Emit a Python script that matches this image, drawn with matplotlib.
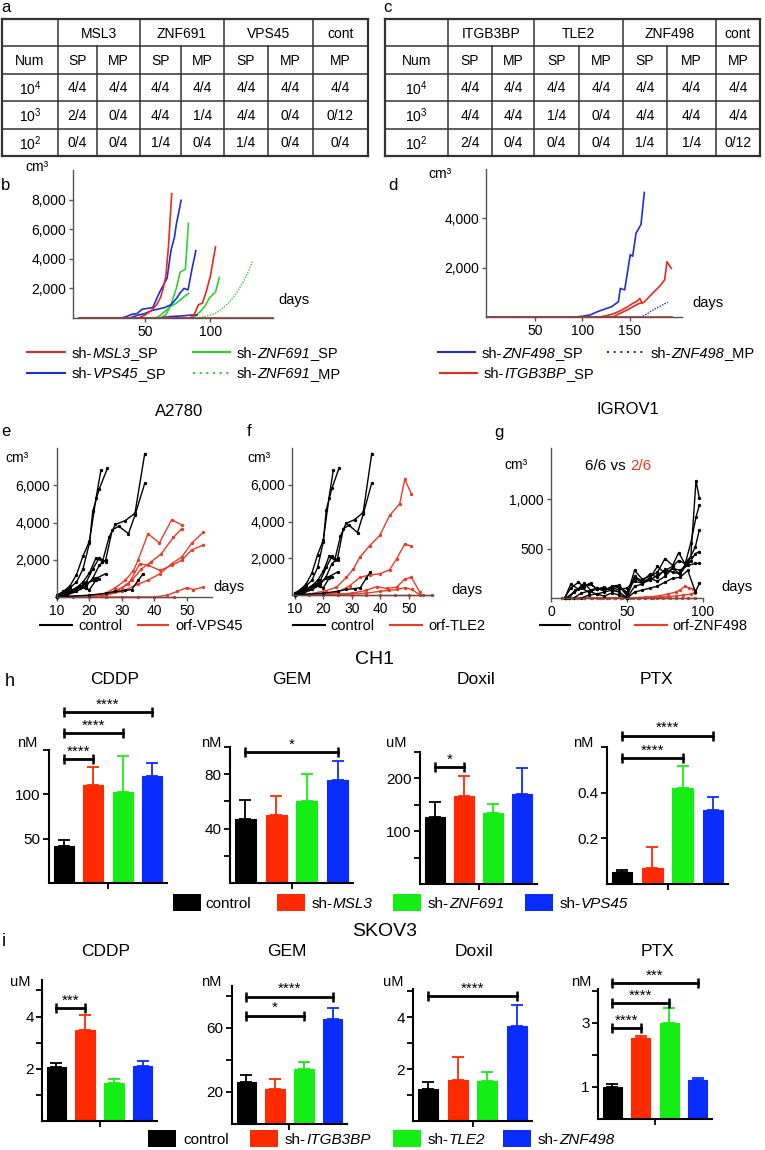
import matplotlib
matplotlib.use('Agg')
import matplotlib.pyplot as plt
from matplotlib.patches import Rectangle
from matplotlib.ticker import StrMethodFormatter

plt.rcParams['font.family'] = ['Liberation Sans', 'DejaVu Sans']
plt.rcParams['mathtext.fontset'] = 'custom'
plt.rcParams['mathtext.rm'] = 'Liberation Sans'
plt.rcParams['mathtext.it'] = 'Liberation Sans:italic'

# ---------------- data ----------------
# a / c tables
table_a_genes = ['MSL3', 'ZNF691', 'VPS45', 'cont']
table_c_genes = ['ITGB3BP', 'TLE2', 'ZNF498', 'cont']
table_sub = ['SP', 'MP', 'SP', 'MP', 'SP', 'MP', 'MP']
cell_numbers = ['10$^4$', '10$^3$', '10$^2$']
table_a_rows = [
    ['4/4', '4/4', '4/4', '4/4', '4/4', '4/4', '4/4'],
    ['2/4', '0/4', '4/4', '1/4', '4/4', '0/4', '0/12'],
    ['0/4', '0/4', '1/4', '0/4', '1/4', '0/4', '0/4'],
]
table_c_rows = [
    ['4/4', '4/4', '4/4', '4/4', '4/4', '4/4', '4/4'],
    ['4/4', '4/4', '1/4', '0/4', '4/4', '4/4', '4/4'],
    ['2/4', '0/4', '0/4', '0/4', '1/4', '1/4', '0/12'],
]

# b: tumour volume (cm3) vs days
b_msl3_1_d = [0, 45, 50, 55, 59, 62, 64, 66, 68, 70.5]
b_msl3_1_v = [0, 0, 200, 500, 900, 1400, 2000, 2800, 4800, 8400]
b_msl3_2_d = [0, 85, 88, 91, 94, 97, 100, 104]
b_msl3_2_v = [0, 0, 300, 900, 1000, 1800, 2800, 4800]
b_msl3_3_d = [0, 148]
b_msl3_3_v = [0, 0]
b_vps45_1_d = [0, 32, 36, 40, 44, 48, 52, 56, 61, 64, 67, 70, 72.5, 74, 77.7]
b_vps45_1_v = [0, 0, 100, 250, 300, 600, 650, 700, 1700, 2200, 2700, 4600, 5400, 6300, 7950]
b_vps45_2_d = [0, 38, 45, 50, 55, 60, 65, 70, 74, 77, 80, 83, 86, 89]
b_vps45_2_v = [0, 0, 200, 300, 500, 600, 700, 900, 1300, 1700, 2000, 1900, 3300, 4550]
b_vps45_3_d = [0, 60, 70, 80, 85, 90]
b_vps45_3_v = [0, 0, 100, 150, 200, 200]
b_znf691_1_d = [0, 62, 66, 70, 74, 77, 79, 81, 83.3]
b_znf691_1_v = [0, 0, 200, 900, 2000, 3100, 3200, 3300, 6400]
b_znf691_2_d = [0, 58, 62, 66, 70, 74, 78, 83.3]
b_znf691_2_v = [0, 0, 200, 500, 800, 1000, 1300, 1660]
b_znf691_3_d = [0, 84, 88, 92, 96, 99, 102, 104, 107]
b_znf691_3_v = [0, 0, 100, 400, 800, 1300, 1600, 1750, 2750]
b_znf691_mp_d = [0, 88, 95, 100, 105, 110, 115, 120, 125, 130, 132]
b_znf691_mp_v = [0, 0, 80, 200, 350, 700, 1100, 1700, 2400, 3300, 3800]

# d
d_znf498_sp_d = [0, 92, 100, 108, 115, 122, 131, 138, 140, 144.6, 150.5, 153, 156.6, 161.8, 165.3]
d_znf498_sp_v = [0, 0, 30, 80, 200, 300, 420, 620, 1160, 1100, 2530, 2460, 3400, 3750, 5050]
d_znf498_mp_d = [0, 162, 166, 170, 175, 180, 185, 190]
d_znf498_mp_v = [0, 0, 80, 170, 300, 400, 500, 600]
d_itgb3bp_1_d = [0, 132, 140, 148, 155, 160, 165, 170, 175, 181, 186.7, 189.2, 193.7]
d_itgb3bp_1_v = [0, 0, 150, 300, 450, 550, 600, 800, 1000, 1230, 1500, 2240, 1970]
d_itgb3bp_2_d = [0, 118, 125, 132, 140, 147, 153, 158, 160.5, 163]
d_itgb3bp_2_v = [0, 0, 50, 120, 250, 400, 550, 650, 760, 560]
d_itgb3bp_3_d = [0, 194]
d_itgb3bp_3_v = [0, 0]

# e / f: A2780 controls (same group drawn in both panels)
ctrl1_d = [10, 12, 14, 16, 18, 20, 22, 23.5]
ctrl1_v = [100, 300, 600, 1200, 2200, 3000, 5300, 6800]
ctrl2_d = [10, 12, 14, 16, 18, 20, 21, 23, 25.5]
ctrl2_v = [100, 200, 500, 800, 1500, 2900, 4600, 5800, 6900]
ctrl3_d = [10, 13, 16, 18, 20, 22, 24, 26, 28, 31, 34, 37]
ctrl3_v = [0, 200, 500, 800, 1300, 2100, 1900, 3200, 3900, 4100, 4500, 7700]
ctrl4_d = [10, 13, 16, 19, 21, 23, 25, 27, 29, 32, 34, 37]
ctrl4_v = [0, 100, 300, 600, 1000, 1700, 2000, 3600, 3800, 3400, 4400, 6100]
ctrl5_d = [10, 13, 16, 19, 21, 23, 25]
ctrl5_v = [0, 150, 400, 800, 1500, 2100, 1900]
ctrl6_d = [10, 13, 16, 19, 22, 25]
ctrl6_v = [0, 200, 500, 700, 1000, 1250]
ctrl7_d = [10, 13, 16, 19, 21, 23]
ctrl7_v = [0, 200, 500, 700, 900, 980]
ctrl8_d = [10, 20, 25, 28, 31, 33, 35, 36.5]
ctrl8_v = [0, 100, 200, 300, 350, 400, 900, 1250]
ctrl9_d = [10, 13, 15, 17, 19]
ctrl9_v = [0, 400, 300, 600, 500]
ctrl10_d = [10, 12, 15, 17, 20, 22]
ctrl10_v = [0, 200, 300, 500, 400, 900]

# e: orf-VPS45
e_orf1_d = [10, 20, 25, 28, 31, 33.5, 35, 38, 41.5, 45.3, 48.4]
e_orf1_v = [0, 50, 200, 500, 900, 1400, 2000, 3400, 2900, 4150, 3870]
e_orf2_d = [10, 22, 26, 30, 33, 36, 39, 42, 45.8, 48.4]
e_orf2_v = [0, 50, 200, 500, 900, 1500, 1900, 2300, 3200, 3660]
e_orf3_d = [10, 25, 30, 35, 38, 41.7, 45.3, 48.4, 51.4, 55]
e_orf3_v = [0, 100, 300, 700, 900, 1250, 1790, 2150, 2880, 3475]
e_orf4_d = [10, 24, 28, 32, 35.5, 38.1, 41.7, 45.3, 48.4, 51.4, 55]
e_orf4_v = [0, 100, 300, 700, 1790, 1700, 1430, 1700, 1970, 2520, 2790]
e_orf5_d = [10, 40, 44, 47, 50, 52, 55]
e_orf5_v = [0, 0, 100, 300, 500, 400, 525]
e_orf6_d = [10, 15, 20, 25, 30, 35, 40, 46]
e_orf6_v = [0, 0, 0, 0, 0, 0, 0, 0]

# f: orf-TLE2
f_orf1_d = [10, 15, 21, 24.6, 28.1, 30.5, 32.8, 36.3, 39.8, 43.3, 46.8, 48.6, 50.9]
f_orf1_v = [0, 50, 240, 420, 960, 1400, 2050, 2690, 3240, 4330, 4960, 6290, 5510]
f_orf2_d = [10, 20, 25, 29.3, 32.8, 36.3, 39.8, 43.3, 45.7, 48.6, 50.9]
f_orf2_v = [0, 50, 150, 510, 960, 1090, 1150, 1380, 1960, 2780, 2650]
f_orf3_d = [10, 25, 30, 35, 38.7, 42.2, 45.7, 48.6, 50.9, 53.9]
f_orf3_v = [0, 50, 100, 250, 450, 360, 420, 870, 960, 150]
f_orf4_d = [10, 30, 35, 40, 43, 46, 48.6, 51, 54]
f_orf4_v = [0, 50, 100, 200, 250, 300, 400, 300, 0]
f_orf5_d = [10, 15, 20, 25, 30, 35, 40, 45, 50, 55, 58]
f_orf5_v = [0, 0, 0, 0, 0, 0, 0, 0, 0, 0, 0]

# g: IGROV1
g_ctrl1_d = [9, 13, 18, 22, 26, 30, 35, 40, 45, 50, 55, 60, 65, 70, 75, 80, 84, 88, 92, 95.4, 97.6]
g_ctrl1_v = [0, 140, 90, 150, 80, 100, 70, 120, 130, 30, 280, 190, 220, 260, 400, 330, 460, 350, 420, 1190, 1010]
g_ctrl2_d = [9, 13, 18, 22, 26, 30, 35, 40, 45, 50, 55, 60, 65, 70, 75, 80, 84, 88, 92, 95.4, 97.6]
g_ctrl2_v = [0, 100, 160, 110, 150, 90, 100, 90, 110, 60, 220, 170, 240, 210, 290, 260, 250, 330, 560, 820, 940]
g_ctrl3_d = [10, 15, 20, 25, 30, 35, 40, 45, 50, 55, 60, 65, 70, 75, 80, 85, 90, 95, 97.6]
g_ctrl3_v = [0, 60, 120, 140, 100, 80, 110, 120, 20, 200, 160, 200, 320, 250, 300, 240, 360, 520, 690]
g_ctrl4_d = [12, 16, 20, 25, 30, 35, 40, 45, 50, 55, 60, 65, 70, 75, 80, 84, 88, 92, 95, 97.6]
g_ctrl4_v = [0, 80, 100, 60, 90, 110, 70, 90, 100, 170, 150, 180, 230, 280, 320, 380, 350, 380, 450, 470]
g_ctrl5_d = [15, 20, 25, 30, 35, 40, 45, 50, 55, 60, 65, 70, 75, 80, 85, 90, 95, 97.6]
g_ctrl5_v = [0, 50, 70, 40, 60, 80, 60, 0, 120, 140, 200, 170, 220, 300, 280, 330, 350, 350]
g_ctrl6_d = [20, 25, 30, 35, 40, 45, 50, 55, 60, 65, 70, 75, 80, 85, 90, 95, 97.6]
g_ctrl6_v = [0, 30, 40, 20, 50, 30, 0, 60, 80, 100, 120, 160, 200, 210, 280, 60, 150]
g_orf1_d = [7, 12, 17, 22, 27, 32, 37, 42, 47, 52, 57, 62, 67, 72, 77, 82, 85, 88, 91, 93.6, 95]
g_orf1_v = [0, 0, 0, 0, 0, 0, 0, 0, 0, 0, 5, 10, 15, 25, 40, 60, 80, 120, 100, 90, 85]
g_orf2_d = [7, 12, 17, 22, 27, 32, 37, 42, 47, 52, 57, 62, 67, 72, 77, 82, 87, 92, 95]
g_orf2_v = [0, 0, 0, 0, 0, 0, 0, 0, 0, 0, 0, 0, 5, 10, 15, 20, 30, 40, 55]
g_orf3_d = [7, 10, 14, 18, 22, 26, 30, 34, 38, 42, 46, 50, 54, 58, 62, 66, 70, 74, 78, 82, 86, 90, 95]
g_orf3_v = [0, 0, 0, 0, 0, 0, 0, 0, 0, 0, 0, 0, 0, 0, 0, 0, 0, 0, 0, 0, 0, 0, 0]

# h: CH1 IC50 (mean, sd)
h_genes = ['MSL3', 'ZNF691', 'VPS45']
i_genes = ['ITGB3BP', 'TLE2', 'ZNF498']
h_cddp = [42, 111, 103, 121]
h_cddp_sd = [6, 20, 40, 14]
h_gem = [47, 50, 60, 75.5]
h_gem_sd = [14, 14, 20, 14]
h_doxil = [126, 166, 134, 170]
h_doxil_sd = [30, 39, 18, 49]
h_ptx = [0.053, 0.068, 0.42, 0.323]
h_ptx_sd = [0.01, 0.096, 0.097, 0.057]
# i: SKOV3
i_cddp = [2.06, 3.48, 1.45, 2.1]
i_cddp_sd = [0.17, 0.57, 0.17, 0.2]
i_gem = [26, 21.9, 34.4, 65.6]
i_gem_sd = [4.6, 6.1, 4.4, 6.4]
i_doxil = [1.23, 1.58, 1.54, 3.65]
i_doxil_sd = [0.27, 0.88, 0.34, 0.81]
i_ptx = [1.0, 2.53, 3.0, 1.22]
i_ptx_sd = [0.09, 0.07, 0.47, 0.06]
# significance brackets: (from, to, height, stars)
h_cddp_sig = [(0, 1, 140, '****'), (0, 2, 169, '****'), (0, 3, 193, '****')]
h_gem_sig = [(0, 3, 96, '*')]
h_doxil_sig = [(0, 1, 221, '*')]
h_ptx_sig = [(0, 2, 0.55, '****'), (0, 3, 0.65, '****')]
i_cddp_sig = [(0, 1, 4.32, '***')]
i_gem_sig = [(0, 2, 67.5, '*'), (0, 3, 79.4, '****')]
i_doxil_sig = [(0, 3, 4.8, '****')]
i_ptx_sig = [(0, 1, 2.84, '****'), (0, 2, 3.63, '****'), (0, 3, 4.25, '***')]

RED = '#e8291c'
BLUE = '#1f2fd6'
GREEN = '#2bd42b'
ORF = '#ee3a24'
AXC = '#555555'
BAR_COLORS = ['#000000', '#ff2a00', '#14ee14', '#0a2cff']

# ---------------- figure ----------------
W, H = 765, 1150
fig = plt.figure(figsize=(W / 100, H / 100), dpi=100)


def px_axes(l, t, r, b):
    return fig.add_axes([l / W, 1 - b / H, (r - l) / W, (b - t) / H])


ov = fig.add_axes([0, 0, 1, 1], zorder=10)
ov.set_xlim(0, W)
ov.set_ylim(H, 0)
ov.axis('off')


def txt(x, y, s, size=10.5, ha='center', va='center', **kw):
    return ov.text(x, y, s, fontsize=size, ha=ha, va=va, **kw)


def rich(x, y, parts, size):
    # parts: (text, style, colour) pieces written one after another
    s, st, col = parts[0]
    t = ov.text(x, y, s, fontsize=size, ha='left', va='center_baseline',
                style=st, color=col)
    for s, st, col in parts[1:]:
        t = ov.annotate(s, xy=(1, 0), xycoords=t, ha='left', va='bottom',
                        fontsize=size, style=st, color=col)


def sh_parts(gene, suffix=''):
    parts = [('sh-', 'normal', 'black'), (gene, 'italic', 'black')]
    if suffix:
        parts.append((suffix, 'normal', 'black'))
    return parts


# ---- tables ----
def draw_table(edges, genes, rows):
    top, bot = 19, 156
    rh = (bot - top) / 5
    ys = [top + k * rh for k in range(6)]
    for k, y in enumerate(ys):
        ov.plot([edges[0], edges[-1]], [y, y], color='#333333',
                lw=1.6 if k in (0, 5) else 1.1, solid_capstyle='projecting')
    head_edges = [edges[0], edges[1], edges[3], edges[5], edges[7], edges[8]]
    for k, x in enumerate(edges):
        outer = k in (0, len(edges) - 1)
        y0 = ys[0] if x in head_edges else ys[1]
        ov.plot([x, x], [y0, ys[-1]], color='#333333', lw=1.6 if outer else 1.1)
    spans = [(1, 3), (3, 5), (5, 7), (7, 8)]
    for g, (c0, c1) in zip(genes, spans):
        txt((edges[c0] + edges[c1]) / 2, ys[0] + rh / 2 + 1, g, size=10)
    txt((edges[0] + edges[1]) / 2, ys[1] + rh / 2 + 1, 'Num', size=10)
    for c, s in enumerate(table_sub):
        txt((edges[c + 1] + edges[c + 2]) / 2, ys[1] + rh / 2 + 1, s, size=10)
    for r, (lab, vals) in enumerate(zip(cell_numbers, rows)):
        yc = ys[r + 2] + rh / 2 + 1
        txt((edges[0] + edges[1]) / 2, yc, lab, size=10)
        for c, s in enumerate(vals):
            txt((edges[c + 1] + edges[c + 2]) / 2, yc, s, size=10)


draw_table([2, 58, 97, 140, 181, 224, 268, 313, 368], table_a_genes, table_a_rows)
draw_table([385, 448, 492, 534, 579, 623, 667, 716, 760], table_c_genes, table_c_rows)
txt(6, 7, 'a', size=12)
txt(387, 7, 'c', size=12)


# ---- line panels ----
def line_axes(box, xlim, ylim, xticks, yticks):
    ax = px_axes(*box)
    ax.set_xlim(*xlim)
    ax.set_ylim(*ylim)
    for s in ('top', 'right'):
        ax.spines[s].set_visible(False)
    for s in ('left', 'bottom'):
        ax.spines[s].set_color(AXC)
        ax.spines[s].set_linewidth(1.0)
    ax.set_xticks(xticks)
    ax.set_yticks(yticks)
    ax.yaxis.set_major_formatter(StrMethodFormatter('{x:,.0f}'))
    ax.tick_params(length=3, width=1, color=AXC, labelsize=10, pad=2)
    ax.patch.set_alpha(0)
    return ax


def draw(ax, curves, color, ls='-', marker=None, lw=1.2):
    for d, v in curves:
        ax.plot(d, v, color=color, ls=ls, lw=lw, marker=marker, ms=1.4,
                clip_on=False)


ax_b = line_axes((73, 170, 273, 318), (-5, 148), (0, 10000), [50, 100],
                 [2000, 4000, 6000, 8000])
draw(ax_b, [(b_znf691_mp_d, b_znf691_mp_v)], GREEN, ls=(0, (1, 1)), lw=1.0)
draw(ax_b, [(b_znf691_1_d, b_znf691_1_v), (b_znf691_2_d, b_znf691_2_v),
            (b_znf691_3_d, b_znf691_3_v)], GREEN)
draw(ax_b, [(b_vps45_1_d, b_vps45_1_v), (b_vps45_2_d, b_vps45_2_v),
            (b_vps45_3_d, b_vps45_3_v)], BLUE)
draw(ax_b, [(b_msl3_1_d, b_msl3_1_v), (b_msl3_2_d, b_msl3_2_v),
            (b_msl3_3_d, b_msl3_3_v)], RED)
txt(6, 185, 'b', size=12)
txt(37, 167, 'cm³', size=10)
txt(294, 300, 'days', size=10.5)

ax_d = line_axes((486, 169, 682, 317), (-1.5, 205), (0, 6000), [50, 100, 150],
                 [2000, 4000])
draw(ax_d, [(d_znf498_mp_d, d_znf498_mp_v)], BLUE, ls=(0, (1, 1)), lw=1.0)
draw(ax_d, [(d_znf498_sp_d, d_znf498_sp_v)], BLUE)
draw(ax_d, [(d_itgb3bp_1_d, d_itgb3bp_1_v), (d_itgb3bp_2_d, d_itgb3bp_2_v),
            (d_itgb3bp_3_d, d_itgb3bp_3_v)], RED)
txt(393, 185, 'd', size=12)
txt(440, 174, 'cm³', size=10)
txt(708, 303, 'days', size=10.5)


def leg_line(x0, x1, y, color, parts, tx, ls='-'):
    ov.plot([x0, x1], [y, y], color=color, lw=1.5, ls=ls)
    rich(tx, y, parts, 10.5)


def plain(s):
    return [(s, 'normal', 'black')]


DOT = (0, (1, 2.2))
leg_line(27, 65, 352, RED, sh_parts('MSL3', '_SP'), 72)
leg_line(27, 65, 373, BLUE, sh_parts('VPS45', '_SP'), 72)
leg_line(193, 230, 352, GREEN, sh_parts('ZNF691', '_SP'), 237)
leg_line(193, 230, 373, GREEN, sh_parts('ZNF691', '_MP'), 237, ls=DOT)
leg_line(438, 475, 352, BLUE, sh_parts('ZNF498', '_SP'), 482)
leg_line(607, 645, 352, BLUE, sh_parts('ZNF498', '_MP'), 651, ls=DOT)
leg_line(440, 477, 373, RED, sh_parts('ITGB3BP', '_SP'), 484)

controls = [(ctrl1_d, ctrl1_v), (ctrl2_d, ctrl2_v), (ctrl3_d, ctrl3_v),
            (ctrl4_d, ctrl4_v), (ctrl5_d, ctrl5_v), (ctrl6_d, ctrl6_v),
            (ctrl7_d, ctrl7_v), (ctrl8_d, ctrl8_v), (ctrl9_d, ctrl9_v),
            (ctrl10_d, ctrl10_v)]

ax_e = line_axes((57, 448, 212, 597), (10, 57.7), (0, 8000),
                 [10, 20, 30, 40, 50], [2000, 4000, 6000])
draw(ax_e, [(e_orf1_d, e_orf1_v), (e_orf2_d, e_orf2_v), (e_orf3_d, e_orf3_v),
            (e_orf4_d, e_orf4_v), (e_orf5_d, e_orf5_v), (e_orf6_d, e_orf6_v)],
     ORF, marker='o', lw=1.0)
draw(ax_e, controls, 'black', marker='o', lw=1.0)
txt(179, 412, 'A2780', size=12)
txt(6, 432, 'e', size=12)
txt(17, 458, 'cm³', size=10)
txt(229, 587, 'days', size=10.5)

ax_f = line_axes((292, 448, 433, 595), (9, 58.5), (0, 8000),
                 [10, 20, 30, 40, 50], [2000, 4000, 6000])
draw(ax_f, [(f_orf1_d, f_orf1_v), (f_orf2_d, f_orf2_v), (f_orf3_d, f_orf3_v),
            (f_orf4_d, f_orf4_v), (f_orf5_d, f_orf5_v)],
     ORF, marker='o', lw=1.0)
draw(ax_f, controls, 'black', marker='o', lw=1.0)
txt(249, 432, 'f', size=12)
txt(259, 458, 'cm³', size=10)
txt(467, 590, 'days', size=10.5)

ax_g = line_axes((551, 448, 703, 598), (0, 100), (0, 1520), [0, 50, 100],
                 [500, 1000])
draw(ax_g, [(g_orf1_d, g_orf1_v), (g_orf2_d, g_orf2_v), (g_orf3_d, g_orf3_v)],
     ORF, marker='o', lw=1.0)
draw(ax_g, [(g_ctrl1_d, g_ctrl1_v), (g_ctrl2_d, g_ctrl2_v),
            (g_ctrl3_d, g_ctrl3_v), (g_ctrl4_d, g_ctrl4_v),
            (g_ctrl5_d, g_ctrl5_v), (g_ctrl6_d, g_ctrl6_v)],
     'black', marker='o', lw=1.0)
txt(628, 410, 'IGROV1', size=12)
txt(499, 433, 'g', size=12)
txt(516, 465, 'cm³', size=10)
rich(585, 465, [('6/6 vs ', 'normal', 'black'), ('2/6', 'normal', ORF)], 11)
txt(737, 587, 'days', size=10.5)

leg_line(40, 72, 625, 'black', plain('control'), 78)
leg_line(138, 168, 625, ORF, plain('orf-VPS45'), 175)
leg_line(293, 325, 625, 'black', plain('control'), 330)
leg_line(390, 422, 625, ORF, plain('orf-TLE2'), 428)
leg_line(540, 570, 625, 'black', plain('control'), 577)
leg_line(635, 667, 625, ORF, plain('orf-ZNF498'), 672)


# ---- bar panels ----
def bar_panel(box, vals, sds, ylim, yticks, ylabels, sigs):
    ax = px_axes(*box)
    x = list(range(len(vals)))
    ax.bar(x, vals, width=0.68, color=BAR_COLORS, edgecolor=BAR_COLORS, lw=0.8)
    for xi, v, s, c in zip(x, vals, sds, BAR_COLORS):
        ax.errorbar(xi, v, yerr=[[0], [s]], fmt='none', ecolor=c,
                    elinewidth=1.3, capsize=4, capthick=1.3)
    ax.set_xlim(-0.5, 3.5)
    ax.set_ylim(*ylim)
    for s in ('top', 'right'):
        ax.spines[s].set_visible(False)
    for s in ('left', 'bottom'):
        ax.spines[s].set_linewidth(1.5)
    ax.set_yticks(yticks)
    ax.set_yticklabels(ylabels)
    ax.set_xticks([1.5])
    ax.set_xticklabels([''])
    ax.tick_params(length=4, width=1.3, labelsize=11, pad=2)
    for i0, i1, y, stars in sigs:
        ax.plot([i0, i1], [y, y], color='black', lw=2, marker='|', ms=7,
                mew=1.8, clip_on=False)
        ax.annotate(stars, ((i0 + i1) / 2, y), xytext=(0, 2.5),
                    textcoords='offset points', ha='center', va='baseline',
                    fontsize=11, annotation_clip=False)
    return ax


txt(375, 660, 'CH1', size=14)
txt(10, 681, 'h', size=13)
bar_panel((49, 750, 167, 883), h_cddp, h_cddp_sd, (0, 150), [50, 100, 150],
          ['50', '100', ''], h_cddp_sig)
bar_panel((230, 747, 353, 883), h_gem, h_gem_sd, (0, 100), [20, 40, 60, 80, 100],
          ['', '40', '', '80', ''], h_gem_sig)
bar_panel((420, 752, 537, 884), h_doxil, h_doxil_sd, (0, 250),
          [50, 100, 150, 200, 250], ['', '100', '', '200', ''], h_doxil_sig)
bar_panel((607, 747, 728, 884), h_ptx, h_ptx_sd, (0, 0.6), [0.2, 0.4, 0.6],
          ['0.2', '0.4', ''], h_ptx_sig)
for (x, t) in [(115, 'CDDP'), (292, 'GEM'), (476, 'Doxil'), (657, 'PTX')]:
    txt(x, 680, t, size=12.5)
for (x, t) in [(27, 'nM'), (211, 'nM'), (396, 'uM'), (583, 'nM')]:
    txt(x, 743, t, size=10.5)

txt(385, 932, 'SKOV3', size=14)
txt(4, 941, 'i', size=13)
bar_panel((42, 980, 157, 1121), i_cddp, i_cddp_sd, (0, 5.4), [1, 2, 3, 4, 5],
          ['', '2', '', '4', ''], i_cddp_sig)
bar_panel((232, 986, 347, 1124), i_gem, i_gem_sd, (0, 86), [20, 40, 60, 80],
          ['20', '', '60', ''], i_gem_sig)
bar_panel((413, 989, 532, 1121), i_doxil, i_doxil_sd, (0, 5.08), [1, 2, 3, 4, 5],
          ['', '2', '', '4', ''], i_doxil_sig)
bar_panel((598, 989, 712, 1119), i_ptx, i_ptx_sd, (0, 4.06), [1, 2, 3, 4],
          ['1', '', '3', ''], i_ptx_sig)
for (x, t) in [(106, 'CDDP'), (287, 'GEM'), (474, 'Doxil'), (658, 'PTX')]:
    txt(x, 951, t, size=12.5)
for (x, t) in [(20, 'uM'), (211, 'nM'), (393, 'uM'), (581, 'nM')]:
    txt(x, 982, t, size=10.5)


def leg_box(x, y, color, parts, tx):
    ov.add_patch(Rectangle((x, y - 8.5), 28, 17, color=color, lw=0))
    rich(tx, y, parts, 11)


for (bx, tx), gene, c in zip([(173, 205), (277, 312), (393, 428), (525, 560)],
                             [None] + h_genes, BAR_COLORS):
    leg_box(bx, 902, c, plain('control') if gene is None else sh_parts(gene), tx)
for (bx, tx), gene, c in zip([(148, 183), (250, 285), (393, 428), (503, 538)],
                             [None] + i_genes, BAR_COLORS):
    leg_box(bx, 1138, c, plain('control') if gene is None else sh_parts(gene), tx)

fig.savefig('out.png', dpi=100)
